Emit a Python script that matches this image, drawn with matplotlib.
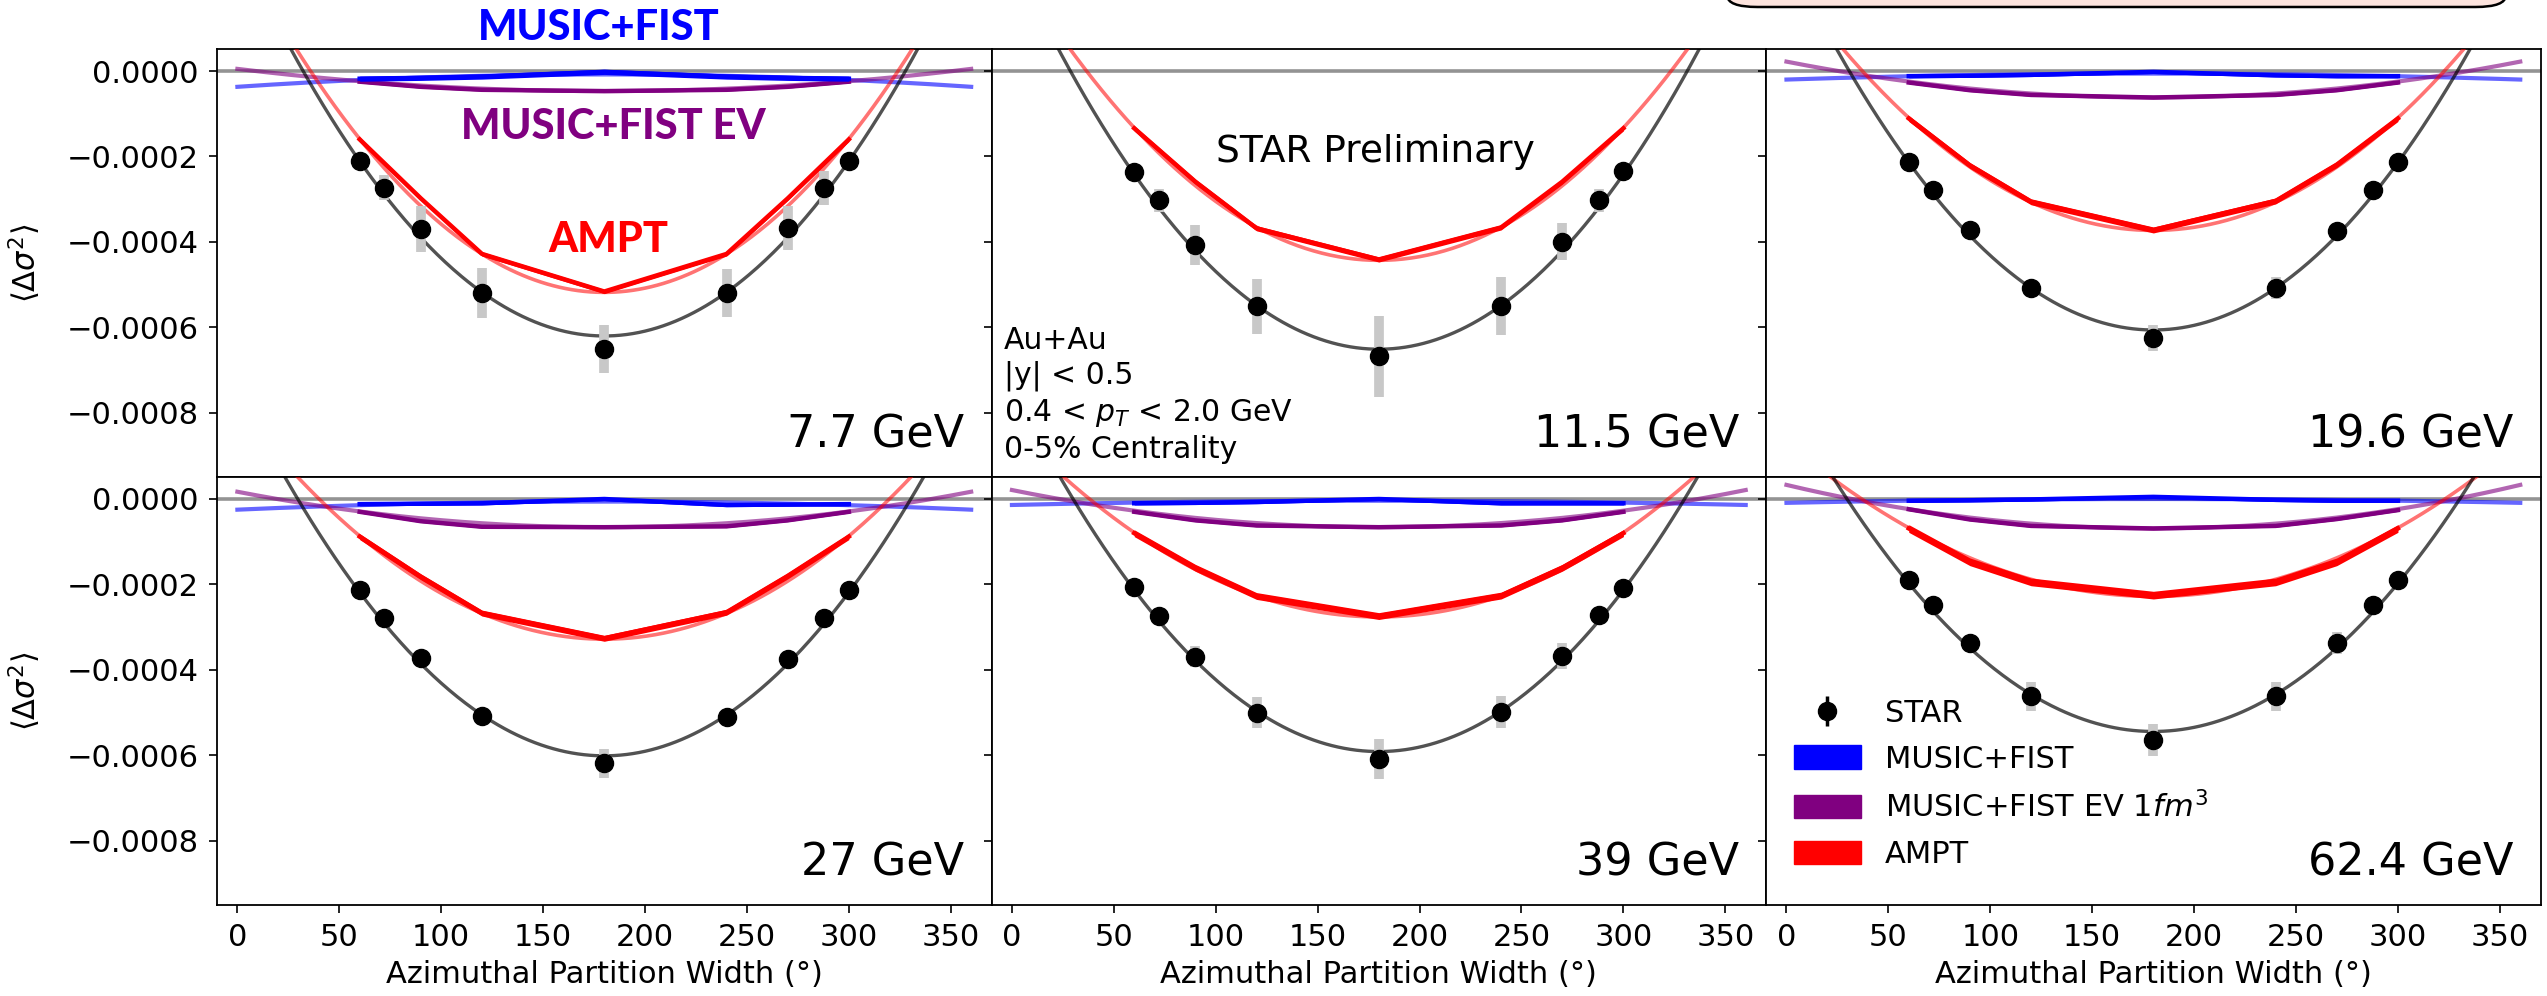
import numpy as np
import matplotlib.pyplot as plt
from matplotlib.patches import Patch, FancyBboxPatch

# azimuthal partition widths (degrees)
star_x = [60, 72, 90, 120, 180, 240, 270, 288, 300]
model_x = [60, 90, 120, 180, 240, 270, 300]
energies = ["7.7 GeV", "11.5 GeV", "19.6 GeV", "27 GeV", "39 GeV", "62.4 GeV"]

# STAR points, systematic bars, statistical errors
star_y = [
    [-0.000210, -0.000273, -0.000370, -0.000519, -0.000650, -0.000519, -0.000368, -0.000273, -0.000210],
    [-0.000236, -0.000302, -0.000407, -0.000551, -0.000668, -0.000550, -0.000399, -0.000302, -0.000235],
    [-0.000214, -0.000278, -0.000372, -0.000508, -0.000625, -0.000508, -0.000374, -0.000278, -0.000212],
    [-0.000213, -0.000279, -0.000373, -0.000508, -0.000618, -0.000511, -0.000374, -0.000279, -0.000213],
    [-0.000207, -0.000273, -0.000369, -0.000500, -0.000609, -0.000498, -0.000368, -0.000271, -0.000208],
    [-0.000189, -0.000248, -0.000336, -0.000462, -0.000564, -0.000462, -0.000337, -0.000248, -0.000190],
]
star_sys = [
    [0.000008, 0.000030, 0.000054, 0.000058, 0.000056, 0.000056, 0.000052, 0.000040, 0.000008],
    [0.000010, 0.000027, 0.000046, 0.000064, 0.000094, 0.000067, 0.000044, 0.000027, 0.000010],
    [0.000005, 0.000008, 0.000010, 0.000015, 0.000030, 0.000025, 0.000010, 0.000008, 0.000005],
    [0.000005, 0.000008, 0.000010, 0.000015, 0.000034, 0.000015, 0.000010, 0.000008, 0.000005],
    [0.000008, 0.000010, 0.000025, 0.000037, 0.000047, 0.000037, 0.000030, 0.000010, 0.000008],
    [0.000005, 0.000008, 0.000015, 0.000033, 0.000038, 0.000033, 0.000025, 0.000008, 0.000005],
]
star_stat = [0.000008, 0.000008, 0.000006, 0.000006, 0.000006, 0.000006]

# STAR fit curves: value at 180 deg and at 0/360 deg
fit_mid = [-0.000620, -0.000651, -0.000606, -0.000601, -0.000591, -0.000544]
fit_edge = [0.000300, 0.000270, 0.000276, 0.000260, 0.000260, 0.000236]

# AMPT
ampt_y = [
    [-0.000160, -0.000298, -0.000428, -0.000516, -0.000428, -0.000298, -0.000160],
    [-0.000134, -0.000259, -0.000368, -0.000441, -0.000366, -0.000259, -0.000134],
    [-0.000111, -0.000221, -0.000306, -0.000372, -0.000304, -0.000219, -0.000111],
    [-0.000088, -0.000182, -0.000267, -0.000326, -0.000265, -0.000180, -0.000088],
    [-0.000080, -0.000161, -0.000227, -0.000274, -0.000226, -0.000161, -0.000080],
    [-0.000069, -0.000147, -0.000194, -0.000225, -0.000194, -0.000147, -0.000069],
]
ampt_err = [0.000005, 0.000006, 0.000007, 0.000007, 0.000008, 0.000009]
ampt_fit_mid = [-0.000518, -0.000443, -0.000373, -0.000328, -0.000276, -0.000228]
ampt_fit_edge = [0.000290, 0.000255, 0.000220, 0.000215, 0.000168, 0.000133]

# MUSIC+FIST (no curve at 11.5 GeV)
fist_y = [
    [-0.000018, -0.000016, -0.000013, -0.000002, -0.000013, -0.000016, -0.000018],
    None,
    [-0.000012, -0.000011, -0.000009, -0.000002, -0.000010, -0.000012, -0.000012],
    [-0.000012, -0.000011, -0.000010, 0.000000, -0.000014, -0.000013, -0.000012],
    [-0.000010, -0.000009, -0.000007, 0.000000, -0.000010, -0.000010, -0.000010],
    [-0.000004, -0.000003, -0.000001, 0.000005, -0.000002, -0.000004, -0.000004],
]
fist_err = [0.000006, 0, 0.000004, 0.000004, 0.000004, 0.000004]
fist_fit_mid = [-0.000008, None, -0.000006, -0.000006, -0.000004, 0.000000]
fist_fit_edge = [-0.000037, None, -0.000020, -0.000025, -0.000014, -0.000009]

# MUSIC+FIST EV 1 fm^3
ev_y = [
    [-0.000025, -0.000037, -0.000044, -0.000047, -0.000044, -0.000037, -0.000025],
    None,
    [-0.000027, -0.000045, -0.000056, -0.000062, -0.000056, -0.000045, -0.000027],
    [-0.000030, -0.000052, -0.000065, -0.000066, -0.000064, -0.000050, -0.000030],
    [-0.000030, -0.000050, -0.000062, -0.000066, -0.000062, -0.000050, -0.000030],
    [-0.000024, -0.000048, -0.000063, -0.000069, -0.000063, -0.000047, -0.000026],
]
ev_err = [0.000003, 0, 0.000003, 0.000003, 0.000003, 0.000003]
ev_fit_mid = [-0.000047, None, -0.000062, -0.000066, -0.000066, -0.000069]
ev_fit_edge = [0.000005, None, 0.000022, 0.000017, 0.000021, 0.000033]

C_BLUE = "#0000ff"
C_PURPLE = "#800080"
C_RED = "#ff0000"

xs = np.linspace(0, 360, 361)


def fit_curve(mid, edge):
    # parabola symmetric about 180 deg
    return mid + (edge - mid) * ((xs - 180.0) / 180.0) ** 2


def band(ax, y, err, color):
    y = np.array(y)
    ax.fill_between(model_x, y - err, y + err, color=color, lw=0, zorder=4)
    ax.plot(model_x, y, color=color, lw=3.2, zorder=4)


fig, axes = plt.subplots(2, 3, figsize=(25.47, 9.96), dpi=100, sharex=True, sharey=True)
fig.subplots_adjust(left=0.0852, right=0.9975, top=0.9508, bottom=0.0914, wspace=0, hspace=0)

for i, ax in enumerate(axes.flat):
    ax.axhline(0, color="gray", lw=2.6, alpha=0.85, zorder=1)

    if fist_y[i] is not None:
        ax.plot(xs, fit_curve(fist_fit_mid[i], fist_fit_edge[i]), color=C_BLUE, lw=3, alpha=0.6, zorder=2)
        ax.plot(xs, fit_curve(ev_fit_mid[i], ev_fit_edge[i]), color=C_PURPLE, lw=3, alpha=0.6, zorder=2)
        band(ax, ev_y[i], ev_err[i], C_PURPLE)
        band(ax, fist_y[i], fist_err[i], C_BLUE)

    ax.plot(xs, fit_curve(ampt_fit_mid[i], ampt_fit_edge[i]), color=C_RED, lw=2.6, alpha=0.55, zorder=3)
    band(ax, ampt_y[i], ampt_err[i], C_RED)

    ax.plot(xs, fit_curve(fit_mid[i], fit_edge[i]), color="black", lw=2.4, alpha=0.68, zorder=5)

    ax.errorbar(star_x, star_y[i], yerr=star_sys[i], fmt="none", ecolor="#c8c8c8",
                elinewidth=7, zorder=6)
    star = ax.errorbar(star_x, star_y[i], yerr=star_stat[i], fmt="o", color="black",
                       ms=13, elinewidth=2.5, zorder=7)

    ax.text(0.965, 0.07, energies[i], transform=ax.transAxes, ha="right", va="baseline",
            fontsize=32)

    ax.tick_params(labelsize=22, length=6, width=1.2, pad=7)
    for sp in ax.spines.values():
        sp.set_linewidth(1.3)

ax0 = axes[0, 0]
ax0.set_xlim(-10, 370)
ax0.set_ylim(-0.00095, 0.0000515)
ax0.set_xticks([0, 50, 100, 150, 200, 250, 300, 350])
ax0.set_yticks([0, -0.0002, -0.0004, -0.0006, -0.0008])

for ax in axes[:, 0]:
    ax.set_ylabel(r"$\langle\Delta\sigma^2\rangle$", fontsize=22)
    ax.yaxis.set_label_coords(-0.2245, 0.5)
for ax in axes[1, :]:
    ax.set_xlabel("Azimuthal Partition Width (°)", fontsize=22, labelpad=6)

ax1 = axes[0, 1]
ax1.text(0.496, 0.76, "STAR Preliminary", transform=ax1.transAxes, ha="center", va="center",
         fontsize=27)
ax1.text(0.016, 0.03, "Au+Au\n|y| < 0.5\n0.4 < $p_T$ < 2.0 GeV\n0-5% Centrality",
         transform=ax1.transAxes, ha="left", va="bottom", fontsize=21.5, linespacing=1.25)

handles = [
    star,
    Patch(color=C_BLUE),
    Patch(color=C_PURPLE),
    Patch(color=C_RED),
]
labels = ["STAR", "MUSIC+FIST", "MUSIC+FIST EV 1$fm^3$", "AMPT"]
axes[1, 2].legend(handles, labels, loc="lower left", bbox_to_anchor=(0.0, 0.02),
                  frameon=False, fontsize=22, handlelength=2.2, handleheight=0.8,
                  labelspacing=0.55)

# overlaid model labels
W, H = 2547.0, 996.0
fig.text(599 / W, 1 - 28 / H, "MUSIC+FIST", color=C_BLUE, fontsize=30, fontweight="black",
         family="Lato", ha="center", va="center")
fig.text(613 / W, 1 - 127 / H, "MUSIC+FIST EV", color=C_PURPLE, fontsize=30, fontweight="black",
         family="Lato", ha="center", va="center", zorder=10)
fig.text(608 / W, 1 - 240 / H, "AMPT", color=C_RED, fontsize=30, fontweight="black",
         family="Lato", ha="center", va="center", zorder=10)

# cut-off box at the top right
box = FancyBboxPatch((1727 / W, 1 - 7 / H), (2506 - 1727) / W, 40 / H,
                     boxstyle="round,pad=0,rounding_size=0.012", transform=fig.transFigure,
                     facecolor="#fde4de", edgecolor="black", lw=1.8, clip_on=False)
fig.patches.append(box)

fig.savefig("out.png", dpi=100)
